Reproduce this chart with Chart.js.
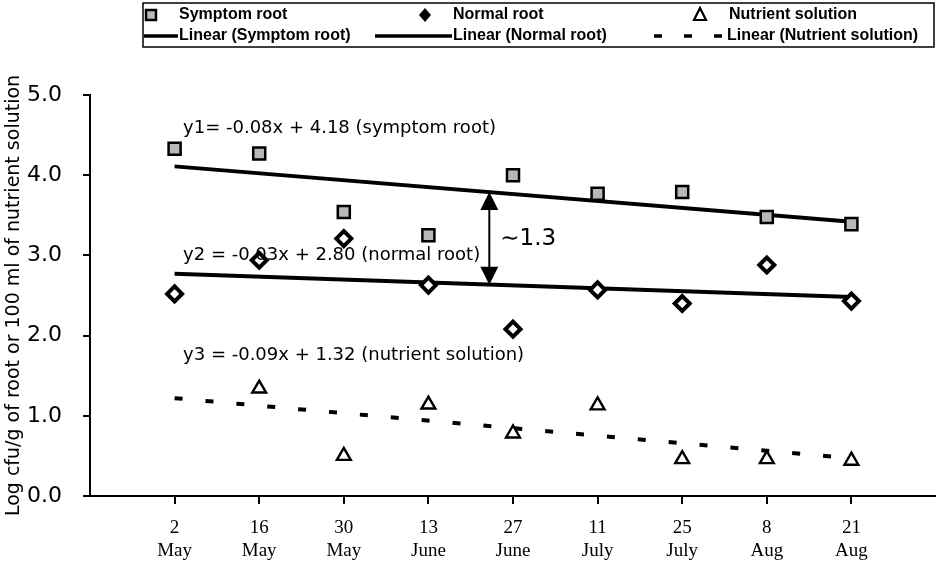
<!DOCTYPE html>
<html><head><meta charset="utf-8">
<script src="https://cdn.jsdelivr.net/npm/chart.js@4/dist/chart.umd.min.js"></script>
<style>html,body{margin:0;padding:0;background:#fff;}#wrap{position:relative;width:936px;height:577px;}</style>
</head><body><div id="wrap"><canvas id="c" width="936" height="577"></canvas></div>
<script>
// ---- data ----
const dateDays = ['2','16','30','13','27','11','25','8','21'];
const dateMonths = ['May','May','May','June','June','July','July','Aug','Aug'];
const symptomRoot = [4.33, 4.27, 3.54, 3.25, 4.00, 3.77, 3.79, 3.48, 3.39];
const normalRoot = [2.52, 2.94, 3.21, 2.63, 2.08, 2.57, 2.40, 2.88, 2.43];
const nutrientSolution = [null, 1.34, 0.50, 1.14, 0.78, 1.13, 0.46, 0.46, 0.44];
// linear trend lines: value at first and last sampling date
const symptomTrend = [4.11, 3.42];
const normalTrend = [2.77, 2.48];
const nutrientTrend = [1.22, 0.47];
const yTicks = [0, 1, 2, 3, 4, 5];
const seriesNames = ['Symptom root', 'Normal root', 'Nutrient solution'];
const trendNames = ['Linear (Symptom root)', 'Linear (Normal root)', 'Linear (Nutrient solution)'];
const equations = ['y1= -0.08x + 4.18 (symptom root)', 'y2 = -0.03x + 2.80 (normal root)', 'y3 = -0.09x + 1.32 (nutrient solution)'];
const gapLabel = '\u223C1.3';
const yTitle = 'Log cfu/g of root or 100 ml of nutrient solution';

const xIdx = dateDays.map((d, i) => i + 1);
const pts = arr => arr.map((v, i) => ({ x: i + 1, y: v })).filter(p => p.y !== null);
const trend = arr => [{ x: 1, y: arr[0] }, { x: dateDays.length, y: arr[1] }];

const SANS = '"Liberation Sans", Arial, sans-serif';
const WIDE = '"DejaVu Sans", "Liberation Sans", sans-serif';
const SERIF = '"Liberation Serif", "Times New Roman", serif';

function drawMarker(ctx, kind, x, y) {
  ctx.save();
  ctx.strokeStyle = '#000';
  if (kind === 'square') {
    ctx.fillStyle = '#b8b8b8'; ctx.lineWidth = 2.5;
    ctx.beginPath(); ctx.rect(x - 5, y - 5, 10, 10); ctx.fill(); ctx.stroke();
  } else if (kind === 'diamond') {
    ctx.fillStyle = '#000';
    ctx.beginPath(); ctx.moveTo(x, y - 7); ctx.lineTo(x + 6, y); ctx.lineTo(x, y + 7); ctx.lineTo(x - 6, y); ctx.closePath(); ctx.fill();
  } else {
    ctx.fillStyle = '#fff'; ctx.lineWidth = 2.2;
    ctx.beginPath(); ctx.moveTo(x, y - 7); ctx.lineTo(x + 6, y + 5); ctx.lineTo(x - 6, y + 5); ctx.closePath(); ctx.fill(); ctx.stroke();
  }
  ctx.restore();
}

const decor = {
  id: 'decor',
  afterDraw(chart) {
    const ctx = chart.ctx, xs = chart.scales.x, ys = chart.scales.y;
    ctx.save();
    // legend box
    ctx.strokeStyle = '#000'; ctx.lineWidth = 1.5;
    ctx.strokeRect(143, 3, 791, 44);
    ctx.fillStyle = '#000';
    ctx.font = 'bold 16px ' + SANS;
    ctx.textBaseline = 'middle'; ctx.textAlign = 'left';
    const r1 = 15, r2 = 36;
    drawMarker(ctx, 'square', 151, r1);
    ctx.fillText(seriesNames[0], 179, r1);
    drawMarker(ctx, 'diamond', 425, r1);
    ctx.fillText(seriesNames[1], 453, r1);
    drawMarker(ctx, 'triangle', 700, r1);
    ctx.fillText(seriesNames[2], 729, r1);
    ctx.lineWidth = 3.5;
    ctx.beginPath(); ctx.moveTo(144, r2); ctx.lineTo(178, r2); ctx.stroke();
    ctx.fillText(trendNames[0], 179, r2);
    ctx.beginPath(); ctx.moveTo(375, r2); ctx.lineTo(452, r2); ctx.stroke();
    ctx.fillText(trendNames[1], 453, r2);
    ctx.setLineDash([8, 22]);
    ctx.beginPath(); ctx.moveTo(654, r2); ctx.lineTo(722, r2); ctx.stroke();
    ctx.setLineDash([]);
    ctx.fillText(trendNames[2], 727, r2);

    // equations
    ctx.font = '18px ' + WIDE;
    ctx.fillText(equations[0], xs.getPixelForValue(1.1), ys.getPixelForValue(4.59));
    ctx.fillText(equations[1], xs.getPixelForValue(1.1), ys.getPixelForValue(3.0));
    ctx.fillText(equations[2], xs.getPixelForValue(1.1), ys.getPixelForValue(1.76));

    // double arrow between trend lines
    const ax = 4.72;
    const t = (ax - 1) / (dateDays.length - 1);
    const yTop = ys.getPixelForValue(symptomTrend[0] + (symptomTrend[1] - symptomTrend[0]) * t);
    const yBot = ys.getPixelForValue(normalTrend[0] + (normalTrend[1] - normalTrend[0]) * t);
    const px = xs.getPixelForValue(ax);
    ctx.lineWidth = 2;
    ctx.beginPath(); ctx.moveTo(px, yTop + 12); ctx.lineTo(px, yBot - 12); ctx.stroke();
    ctx.beginPath(); ctx.moveTo(px, yTop); ctx.lineTo(px + 9, yTop + 18); ctx.lineTo(px - 9, yTop + 18); ctx.closePath(); ctx.fill();
    ctx.beginPath(); ctx.moveTo(px, yBot); ctx.lineTo(px + 9, yBot - 18); ctx.lineTo(px - 9, yBot - 18); ctx.closePath(); ctx.fill();
    ctx.font = '23px ' + WIDE;
    ctx.fillText(gapLabel, px + 11, (yTop + yBot) / 2 + 1);
    ctx.restore();
  }
};

new Chart(document.getElementById('c'), {
  type: 'line',
  data: {
    datasets: [
      { label: seriesNames[0], data: pts(symptomRoot), showLine: false, pointStyle: 'rect', pointRadius: 8.5, pointBackgroundColor: '#b8b8b8', pointBorderColor: '#000', pointBorderWidth: 2.5 },
      { label: seriesNames[1], data: pts(normalRoot), showLine: false, pointStyle: 'rectRot', pointRadius: 7.5, pointBackgroundColor: '#fff', pointBorderColor: '#000', pointBorderWidth: 4 },
      { label: seriesNames[2], data: pts(nutrientSolution), showLine: false, pointStyle: 'triangle', pointRadius: 8, pointBackgroundColor: '#fff', pointBorderColor: '#000', pointBorderWidth: 2.4 },
      { label: trendNames[0], data: trend(symptomTrend), borderColor: '#000', borderWidth: 4, pointRadius: 0 },
      { label: trendNames[1], data: trend(normalTrend), borderColor: '#000', borderWidth: 4, pointRadius: 0 },
      { label: trendNames[2], data: trend(nutrientTrend), borderColor: '#000', borderWidth: 4, borderDash: [8, 23], pointRadius: 0 }
    ]
  },
  options: {
    responsive: false, animation: false, devicePixelRatio: 1,
    layout: { autoPadding: false, padding: { top: 95, right: 0, bottom: 0, left: 0 } },
    plugins: { legend: { display: false }, tooltip: { enabled: false } },
    scales: {
      x: {
        type: 'linear', min: 0, max: 10,
        afterBuildTicks: s => { s.ticks = xIdx.map(v => ({ value: v })); },
        ticks: { callback: (v, i) => [dateDays[i], dateMonths[i]], font: { family: SERIF, size: 19 }, color: '#000', padding: 13, maxRotation: 0, autoSkip: false },
        grid: { drawOnChartArea: false, tickLength: 8, color: '#000', lineWidth: 2 },
        border: { color: '#000', width: 2 },
        afterFit: s => { s.height = 81; }
      },
      y: {
        min: 0, max: 5,
        afterBuildTicks: s => { s.ticks = yTicks.map(v => ({ value: v })); },
        ticks: { callback: v => Number(v).toFixed(1), font: { family: WIDE, size: 22 }, color: '#000', padding: 21 },
        grid: { drawOnChartArea: false, tickLength: 7, color: '#000', lineWidth: 2 },
        border: { color: '#000', width: 2 },
        title: { display: true, text: yTitle, font: { family: WIDE, size: 19 }, color: '#000', padding: { top: 3, bottom: 0 } },
        afterFit: s => { s.width = 90; }
      }
    }
  },
  plugins: [decor]
});
</script></body></html>
